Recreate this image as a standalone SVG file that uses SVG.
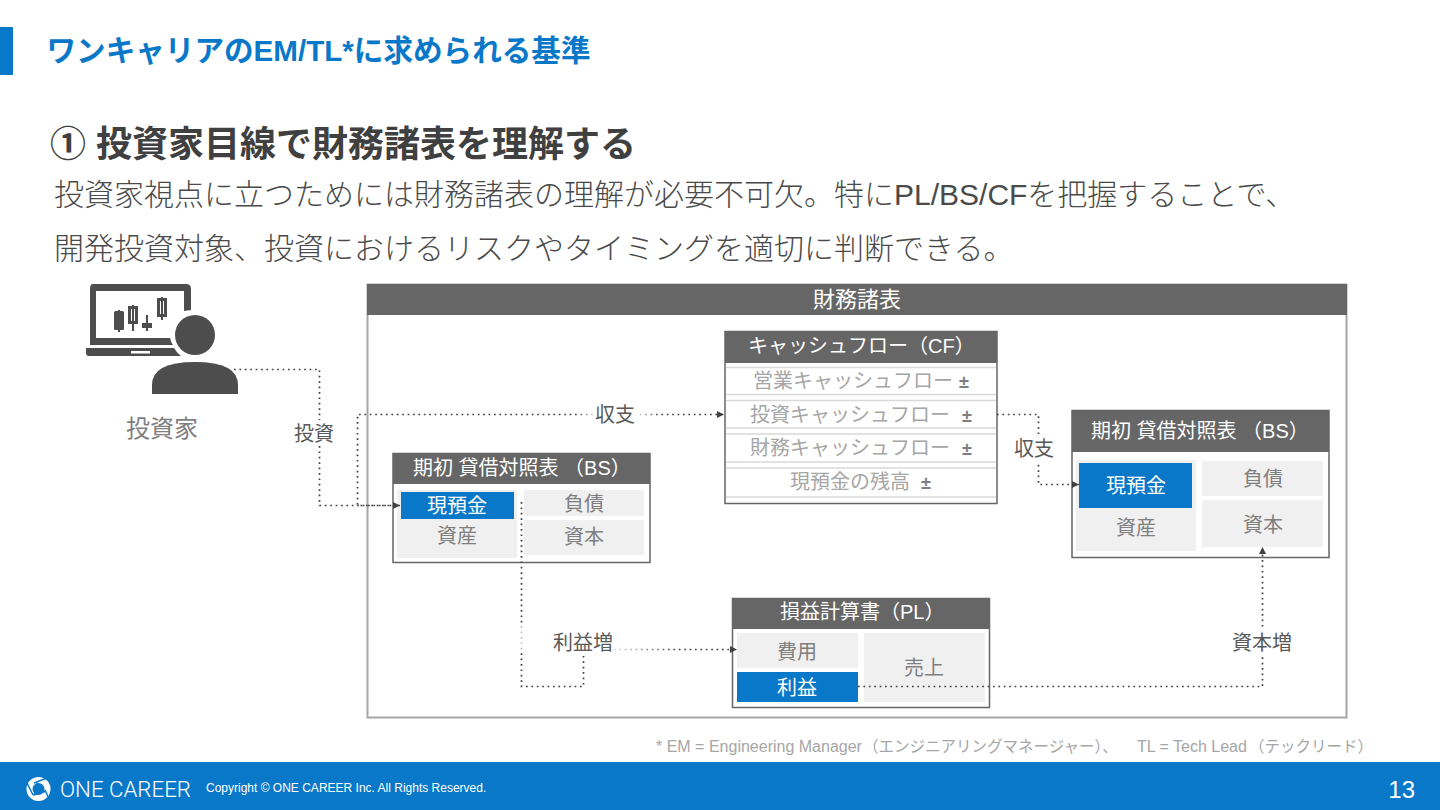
<svg xmlns="http://www.w3.org/2000/svg" width="1440" height="810" viewBox="0 0 1440 810">
<style>
text{font-family:"Liberation Sans","Noto Sans CJK JP",sans-serif}
.m{text-anchor:middle}
.hd{fill:#666}
.box{fill:#fff;stroke:#666;stroke-width:1.5}
.g{fill:#f0f0f0}
.b{fill:#0a78c8}
.w{fill:#fff;font-size:20px}
.t{fill:#7f7f7f;font-size:20px}
.l{fill:#595959;font-size:20px}
.c{fill:none;stroke:#404040;stroke-width:1.7;stroke-dasharray:1.7 3.7}
.cf{fill:#a6a6a6;font-size:20px}
.pm{fill:#7f7f7f;font-weight:700;font-size:18px}
.ln{stroke:#d9d9d9;stroke-width:1.5}
.body{font-weight:300;font-size:30px;fill:#4a4a4a}
.fn{font-size:16px}
.fj{font-size:15.500px}
</style>
<defs>
<marker id="a" markerUnits="userSpaceOnUse" markerWidth="8" markerHeight="8" refX="7" refY="4" orient="auto"><path d="M0 0.5L7 4L0 7.5Z" fill="#404040"/></marker>
<linearGradient id="fd" x1="0" x2="1" y1="0" y2="0"><stop offset="0" stop-color="#fff" stop-opacity="0.8"/><stop offset="1" stop-color="#fff" stop-opacity="0"/></linearGradient>
<linearGradient id="fr" x1="1" x2="0" y1="0" y2="0"><stop offset="0" stop-color="#fff" stop-opacity="0.8"/><stop offset="1" stop-color="#fff" stop-opacity="0"/></linearGradient>
</defs>
<rect width="1440" height="810" fill="#fff"/>
<rect x="0" y="27" width="13" height="48" fill="#0a78c8"/>
<text x="46.500" y="61" textLength="544" lengthAdjust="spacingAndGlyphs" font-size="30" font-weight="700" fill="#0a78c8">ワンキャリアのEM/TL*に求められる基準</text>
<text x="50" y="157" font-size="36" font-weight="700" fill="#404040">① 投資家目線で財務諸表を理解する</text>
<text class="body" x="54" y="205">投資家視点に立つためには財務諸表の理解が必要不可欠。特にPL/BS/CFを把握することで、</text>
<text class="body" x="54" y="259">開発投資対象、投資におけるリスクやタイミングを適切に判断できる。</text>

<g id="investor">
<path fill-rule="evenodd" fill="#4d4d4d" d="M93 284H186Q191 284 191 289V310L184 311V291H96V338H170Q171 343 173 345H90V289Q90 284 93 284Z"/>
<path fill="#4d4d4d" d="M86 348H174Q177 353 181 356H89Q86 356 86 353Z"/>
<rect x="131" y="351" width="19" height="2.500" fill="#fff"/>
<g fill="#4d4d4d">
<rect x="114" y="311" width="10" height="19" rx="1.500"/><rect x="118" y="310" width="2" height="22"/>
<path fill-rule="evenodd" d="M128 306H138V324H128ZM131 309V321H135V309Z"/><rect x="132" y="305" width="2" height="26"/>
<rect x="142" y="323" width="10" height="5"/><rect x="146" y="315" width="2" height="16"/>
<path fill-rule="evenodd" d="M157 298H167V317H157ZM160 301V314H164V301Z"/><rect x="161" y="297" width="2" height="23"/>
<circle cx="195" cy="335" r="20"/>
<path d="M152 394V385Q152 362 195 362Q238 362 238 385V394Z"/>
</g>
<text class="m" x="162" y="437" font-size="24" fill="#7f7f7f">投資家</text>
</g>

<g id="statements">
<rect x="367.500" y="284.500" width="979" height="433" fill="#fff" stroke="#a6a6a6" stroke-width="2"/>
<rect class="hd" x="367" y="284" width="980" height="31"/>
<text class="m w" style="font-size:22px" x="857" y="307">財務諸表</text>
</g>

<g id="bs-open">
<rect class="box" x="393" y="453.500" width="257" height="109"/>
<rect class="hd" x="393" y="453" width="257" height="31"/>
<text class="w" x="413" y="475">期初 貸借対照表 （BS）</text>
<rect class="g" x="397" y="490" width="120" height="68"/>
<rect class="b" x="401" y="492" width="113" height="27"/>
<text class="m w" x="457" y="513">現預金</text>
<text class="m t" x="457" y="543">資産</text>
<rect class="g" x="524" y="490" width="120" height="26"/>
<text class="m t" x="584" y="511">負債</text>
<rect class="g" x="524" y="520" width="120" height="35"/>
<text class="m t" x="584" y="544">資本</text>
</g>

<g id="cf">
<rect class="box" x="725" y="331.500" width="272" height="172"/>
<rect class="hd" x="725" y="331" width="272" height="32"/>
<g class="ln"><path d="M726 367.500H996M726 394.500H996M726 400.500H996M726 428H996M726 434H996M726 462H996M726 468H996M726 497H996"/></g>
<text class="w" x="748" y="353">キャッシュフロー（CF）</text>
<text class="cf" x="753" y="388">営業キャッシュフロー<tspan class="pm" x="959">±</tspan></text>
<text class="cf" x="750" y="422">投資キャッシュフロー<tspan class="pm" x="962">±</tspan></text>
<text class="cf" x="750" y="455">財務キャッシュフロー<tspan class="pm" x="962">±</tspan></text>
<text class="cf" x="790" y="489">現預金の残高<tspan class="pm" x="921">±</tspan></text>
</g>

<g id="bs-close">
<rect class="box" x="1072" y="410.500" width="257" height="147"/>
<rect class="hd" x="1072" y="410" width="257" height="42"/>
<text class="w" x="1091" y="438">期初 貸借対照表 （BS）</text>
<rect class="g" x="1076" y="460" width="120" height="91"/>
<rect class="b" x="1079" y="463" width="113" height="45"/>
<text class="m w" x="1136" y="493">現預金</text>
<text class="m t" x="1136" y="535">資産</text>
<rect class="g" x="1202" y="461" width="121" height="35"/>
<text class="m t" x="1263" y="486">負債</text>
<rect class="g" x="1202" y="500" width="121" height="47"/>
<text class="m t" x="1263" y="532">資本</text>
</g>

<g id="pl">
<rect class="box" x="732.500" y="598.500" width="257" height="109"/>
<rect class="hd" x="732" y="598" width="258" height="31"/>
<text class="w" x="780" y="619">損益計算書（PL）</text>
<rect class="g" x="737" y="633" width="121" height="35"/>
<text class="m t" x="797" y="659">費用</text>
<rect class="b" x="737" y="672" width="121" height="30"/>
<text class="m w" x="797" y="695">利益</text>
<rect class="g" x="864" y="633" width="121" height="69"/>
<text class="m t" x="924" y="675">売上</text>
</g>

<g id="connectors">
<path class="c" d="M234 369.500H319.500V505.500H400" marker-end="url(#a)"/>
<path class="c" d="M400 505.500H357.500V414.500H724" marker-end="url(#a)"/>
<path class="c" d="M997 414.500H1038.500V484.500H1079" marker-end="url(#a)"/>
<path class="c" d="M521.500 502V686.500H583.500V650"/>
<path class="c" d="M614 649.500H737" marker-end="url(#a)"/>
<path class="c" d="M858 686.500H1262.500V547" marker-end="url(#a)"/>
</g>
<g id="labels">
<rect x="614" y="644" width="66" height="11" fill="url(#fd)"/>
<rect x="636" y="409" width="24" height="11" fill="url(#fd)"/>
<rect x="575" y="409" width="20" height="11" fill="url(#fr)"/>
<rect x="516" y="625" width="11" height="28" fill="#fff" fill-opacity="0.65"/>
<rect x="294" y="420" width="40" height="26" fill="#fff"/><text class="m l" x="314" y="441">投資</text>
<rect x="595" y="402" width="41" height="26" fill="#fff"/><text class="m l" x="615" y="422">収支</text>
<rect x="1014" y="436" width="41" height="26" fill="#fff"/><text class="m l" x="1034" y="456">収支</text>
<rect x="553" y="630" width="61" height="26" fill="#fff"/><text class="m l" x="583" y="650">利益増</text>
<rect x="1232" y="630" width="60" height="26" fill="#fff"/><text class="m l" x="1262" y="650">資本増</text>
</g>

<text y="752" fill="#a6a6a6"><tspan class="fn" x="656">* EM = Engineering Manager</tspan><tspan class="fj" x="863">（エンジニアリングマネージャー）、</tspan><tspan class="fn" x="1137">TL = Tech Lead</tspan><tspan class="fj" x="1249">（テックリード）</tspan></text>

<g id="footer">
<rect y="762" width="1440" height="48" fill="#0a78c8"/>
<circle cx="38.500" cy="789" r="9" fill="none" stroke="#fff" stroke-width="6"/>
<path d="M37 782L46 792L33 796Z" fill="#0a78c8"/>
<path d="M34 783L47 778M45 790L50 801M33 795L27 783" stroke="#0a78c8" stroke-width="1.500" fill="none"/>
<text x="60" y="797" textLength="131" lengthAdjust="spacingAndGlyphs" style="font-family:Roboto,sans-serif;font-weight:300" font-size="22" fill="#fff">ONE CAREER</text>
<text x="206" y="792" font-size="12" fill="#fff">Copyright © ONE CAREER Inc. All Rights Reserved.</text>
<text x="1415" y="798" text-anchor="end" font-size="24" fill="#fff">13</text>
</g>
</svg>
